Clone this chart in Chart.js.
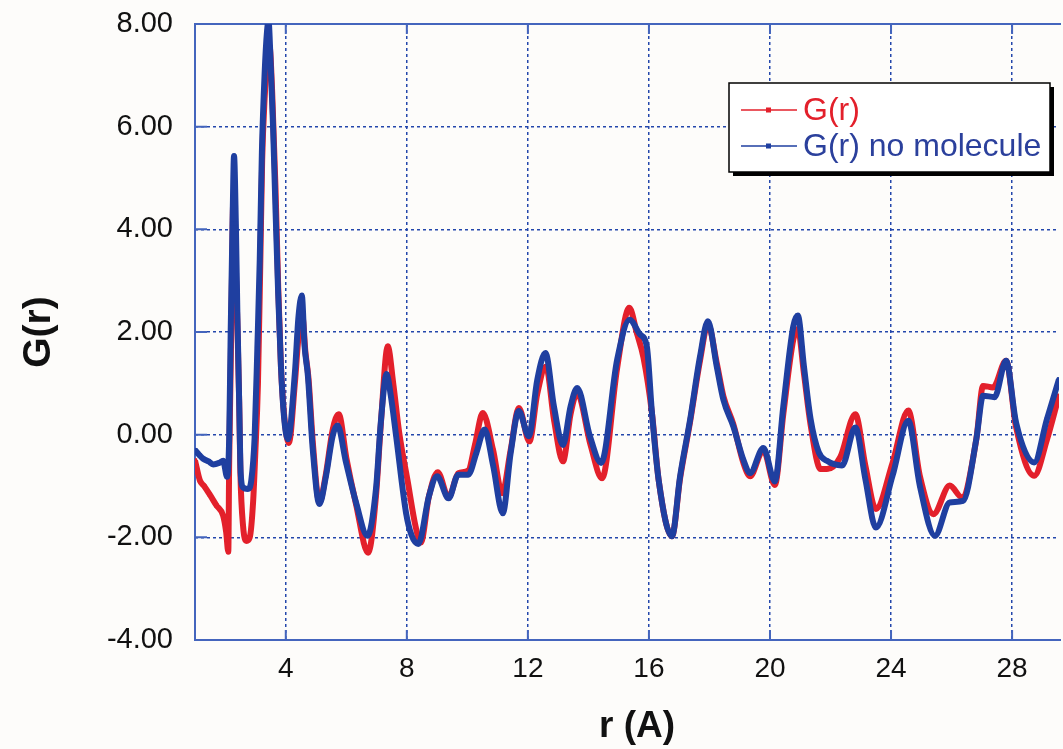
<!DOCTYPE html>
<html>
<head>
<meta charset="utf-8">
<script src="https://cdn.jsdelivr.net/npm/chart.js@4.4.1/dist/chart.umd.min.js"></script>
<style>
  body { margin: 0; background: #fdfcfa; }
  canvas { display: block; }
</style>
</head>
<body>
<canvas id="grChart" width="1063" height="749"></canvas>
<script>
// G(r), r in Angstrom
const rRed = [1.00, 1.16, 1.30, 1.49, 1.71, 1.93, 2.03, 2.10, 2.13, 2.18, 2.23, 2.26, 2.34, 2.40, 2.46, 2.50,
    2.59, 2.70, 2.81, 2.92, 2.99, 3.08, 3.16, 3.22, 3.30, 3.38, 3.46, 3.55, 3.66, 3.75, 3.84, 3.96,
    4.10, 4.30, 4.42, 4.55, 4.65, 4.75, 4.90, 5.11, 5.33, 5.55, 5.75, 6.00, 6.32, 6.72, 6.98, 7.14,
    7.37, 7.55, 7.75, 8.02, 8.29, 8.46, 8.73, 9.02, 9.38, 9.70, 10.03, 10.25, 10.51, 10.85, 11.15, 11.43,
    11.70, 12.05, 12.31, 12.60, 12.86, 13.16, 13.41, 13.63, 14.07, 14.45, 14.95, 15.35, 15.60, 15.82, 16.10, 16.32,
    16.76, 17.03, 17.36, 17.69, 17.95, 18.24, 18.46, 18.79, 19.12, 19.34, 19.78, 20.16, 20.44, 20.77, 20.92, 21.12,
    21.34, 21.67, 21.88, 22.32, 22.82, 23.15, 23.50, 24.05, 24.57, 24.95, 25.40, 25.94, 26.34, 26.82, 27.04, 27.37,
    27.80, 28.13, 28.73, 29.15, 29.55];
const gRed = [-0.50, -0.89, -1.00, -1.17, -1.38, -1.58, -1.90, -2.28, -0.50, 1.33, 3.40, 4.49, 3.42, 2.17, 0.64, -0.75,
    -1.79, -2.07, -2.00, -1.31, -0.40, 0.99, 3.42, 5.36, 6.54, 7.24, 7.58, 6.68, 4.81, 2.86, 1.33, 0.29,
    -0.16, 1.00, 1.90, 2.30, 1.60, 1.10, -0.20, -1.32, -0.75, 0.10, 0.40, -0.45, -1.35, -2.30, -1.20, 0.20,
    1.72, 1.00, 0.03, -0.88, -1.79, -2.10, -1.20, -0.73, -1.22, -0.75, -0.70, -0.20, 0.42, -0.30, -1.14, -0.30,
    0.52, -0.13, 0.80, 1.33, 0.30, -0.52, 0.40, 0.81, -0.20, -0.85, 1.30, 2.47, 1.98, 1.50, 0.42, -0.88,
    -1.98, -0.85, 0.25, 1.45, 2.15, 1.40, 0.75, 0.20, -0.55, -0.81, -0.30, -0.98, 0.40, 1.85, 2.06, 1.20,
    0.20, -0.67, -0.67, -0.44, 0.40, -0.60, -1.45, -0.55, 0.47, -0.80, -1.55, -0.99, -1.22, -0.08, 0.95, 0.92,
    1.44, 0.15, -0.80, -0.10, 0.76];

const rBlue = [1.00, 1.15, 1.27, 1.45, 1.60, 1.80, 1.93, 2.06, 2.13, 2.18, 2.24, 2.29, 2.35, 2.40, 2.46, 2.51,
    2.59, 2.75, 2.86, 2.97, 3.06, 3.14, 3.21, 3.30, 3.38, 3.43, 3.50, 3.58, 3.66, 3.75, 3.84, 3.94,
    4.07, 4.30, 4.42, 4.53, 4.62, 4.73, 4.89, 5.11, 5.33, 5.55, 5.71, 5.99, 6.32, 6.70, 6.98, 7.14,
    7.33, 7.47, 7.64, 7.97, 8.15, 8.38, 8.73, 9.00, 9.38, 9.70, 10.03, 10.30, 10.57, 10.85, 11.17, 11.43,
    11.70, 12.03, 12.31, 12.58, 12.86, 13.16, 13.41, 13.63, 14.05, 14.42, 14.95, 15.36, 15.71, 15.93, 16.10, 16.32,
    16.76, 17.03, 17.36, 17.69, 17.95, 18.24, 18.46, 18.79, 19.12, 19.34, 19.78, 20.16, 20.44, 20.77, 20.92, 21.12,
    21.34, 21.61, 21.88, 22.38, 22.82, 23.15, 23.50, 24.05, 24.57, 24.95, 25.45, 25.94, 26.38, 26.82, 27.04, 27.42,
    27.80, 28.13, 28.73, 29.15, 29.55];
const gBlue = [-0.30, -0.40, -0.47, -0.52, -0.58, -0.55, -0.51, -0.82, -0.06, 2.03, 4.11, 5.43, 4.11, 2.38, 0.64, -0.75,
    -1.03, -1.06, -0.89, -0.06, 1.68, 3.42, 5.50, 7.03, 7.86, 8.05, 7.24, 5.99, 4.39, 2.72, 1.33, 0.36,
    -0.09, 1.20, 2.30, 2.71, 1.73, 1.15, -0.28, -1.35, -0.80, -0.02, 0.18, -0.54, -1.32, -1.97, -1.06, 0.24,
    1.18, 0.76, 0.00, -1.51, -1.95, -2.13, -1.20, -0.81, -1.24, -0.78, -0.78, -0.35, 0.10, -0.60, -1.53, -0.36,
    0.46, -0.03, 1.07, 1.59, 0.55, -0.20, 0.55, 0.91, -0.03, -0.55, 1.46, 2.24, 1.95, 1.72, 0.42, -0.88,
    -1.98, -0.81, 0.29, 1.53, 2.21, 1.33, 0.68, 0.16, -0.49, -0.75, -0.26, -0.91, 0.55, 2.11, 2.32, 1.34,
    0.31, -0.34, -0.51, -0.60, 0.14, -0.86, -1.81, -0.80, 0.27, -0.99, -1.97, -1.32, -1.29, -0.08, 0.76, 0.73,
    1.44, 0.24, -0.54, 0.30, 1.08];

const xTicks = [4, 8, 12, 16, 20, 24, 28];
const seriesNames = ['G(r)', 'G(r) no molecule'];
const xTitle = 'r (A)';
const seriesColors = ['#e3202b', '#1f3fa0'];
const legendTextColors = ['#e3202b', '#2b409c'];

const frameColor = '#4465bd';
const gridColor = '#2447ab';
const fontFamily = "'Liberation Sans', Arial, sans-serif";

function toPoints(xs, ys) {
    return xs.map((x, i) => ({ x: x, y: ys[i] }));
}

// solid frame + short inward ticks, like the original plot
const framePlugin = {
    id: 'frame',
    beforeDatasetsDraw(chart) {
        const { ctx, chartArea: a, scales } = chart;
        ctx.save();
        ctx.strokeStyle = frameColor;
        ctx.lineWidth = 2;
        ctx.beginPath();
        ctx.moveTo(a.right + 2, a.top);
        ctx.lineTo(a.left, a.top);
        ctx.lineTo(a.left, a.bottom);
        ctx.lineTo(a.right + 2, a.bottom);
        ctx.stroke();
        ctx.beginPath();
        scales.x.ticks.forEach(t => {
            const px = scales.x.getPixelForValue(t.value);
            ctx.moveTo(px, a.bottom);
            ctx.lineTo(px, a.bottom - 10);
            ctx.moveTo(px, a.top);
            ctx.lineTo(px, a.top + 10);
        });
        scales.y.ticks.forEach(t => {
            const py = scales.y.getPixelForValue(t.value);
            ctx.moveTo(a.left, py);
            ctx.lineTo(a.left + 12, py);
        });
        ctx.stroke();
        ctx.restore();
    }
};

// boxed legend with drop shadow, and the x axis title sitting a bit right of centre
const legendPlugin = {
    id: 'boxLegend',
    afterDraw(chart) {
        const ctx = chart.ctx;
        const x = 729, y = 83, w = 321, h = 89;
        ctx.save();
        ctx.fillStyle = '#000';
        ctx.fillRect(x + 4, y + 4, w, h);
        ctx.fillStyle = '#ffffff';
        ctx.fillRect(x, y, w, h);
        ctx.strokeStyle = '#000';
        ctx.lineWidth = 1.5;
        ctx.strokeRect(x, y, w, h);
        ctx.font = '32px ' + fontFamily;
        ctx.textBaseline = 'middle';
        chart.data.datasets.forEach((ds, i) => {
            const ly = y + 27 + i * 36;
            ctx.strokeStyle = seriesColors[i];
            ctx.lineWidth = 1.5;
            ctx.beginPath();
            ctx.moveTo(x + 12, ly);
            ctx.lineTo(x + 68, ly);
            ctx.stroke();
            ctx.fillStyle = seriesColors[i];
            ctx.fillRect(x + 37, ly - 2.5, 5, 5);
            ctx.fillStyle = legendTextColors[i];
            ctx.fillText(ds.label, x + 74, ly + 1);
        });

        ctx.font = 'bold 37px ' + fontFamily;
        ctx.fillStyle = '#111';
        ctx.textAlign = 'center';
        ctx.fillText(xTitle, 637, 727);
        ctx.restore();
    }
};

const ctx = document.getElementById('grChart').getContext('2d');
const chart = new Chart(ctx, {
    type: 'line',
    data: {
        datasets: [{
            label: seriesNames[0],
            data: toPoints(rRed, gRed),
            borderColor: seriesColors[0],
            backgroundColor: seriesColors[0],
            borderWidth: 6,
            pointStyle: 'rect',
            pointRadius: 3,
            pointBorderWidth: 0,
            cubicInterpolationMode: 'monotone',
            order: 1
        }, {
            label: seriesNames[1],
            data: toPoints(rBlue, gBlue),
            borderColor: seriesColors[1],
            backgroundColor: seriesColors[1],
            borderWidth: 6,
            pointStyle: 'rect',
            pointRadius: 3,
            pointBorderWidth: 0,
            cubicInterpolationMode: 'monotone',
            order: 0
        }]
    },
    options: {
        responsive: false,
        animation: false,
        layout: { padding: { top: 24, right: 0, left: 0, bottom: 0 } },
        plugins: { legend: { display: false }, tooltip: { enabled: false } },
        scales: {
            x: {
                type: 'linear',
                min: 1,
                max: 29.55,
                afterBuildTicks: scale => { scale.ticks = xTicks.map(v => ({ value: v })); },
                afterFit: scale => { scale.height = 109; },
                border: { display: false, dash: [3, 3] },
                grid: { color: gridColor, lineWidth: 1.5, drawTicks: false },
                ticks: {
                    color: '#111',
                    padding: 12,
                    maxRotation: 0,
                    font: { family: fontFamily, size: 28 }
                },
                title: { display: false }
            },
            y: {
                min: -4,
                max: 8,
                afterFit: scale => {
                    scale.width = 195;
                    scale.paddingTop = 0;
                    scale.paddingBottom = 0;
                },
                border: { display: false, dash: [3, 3] },
                grid: { color: gridColor, lineWidth: 1.5, drawTicks: false },
                ticks: {
                    stepSize: 2,
                    color: '#111',
                    padding: 22,
                    font: { family: fontFamily, size: 29 },
                    callback: v => v.toFixed(2)
                },
                title: {
                    display: true,
                    text: 'G(r)',
                    color: '#111',
                    padding: { top: 16, bottom: 0 },
                    font: { family: fontFamily, size: 39, weight: 'bold' }
                }
            }
        }
    },
    plugins: [framePlugin, legendPlugin]
});
</script>
</body>
</html>
